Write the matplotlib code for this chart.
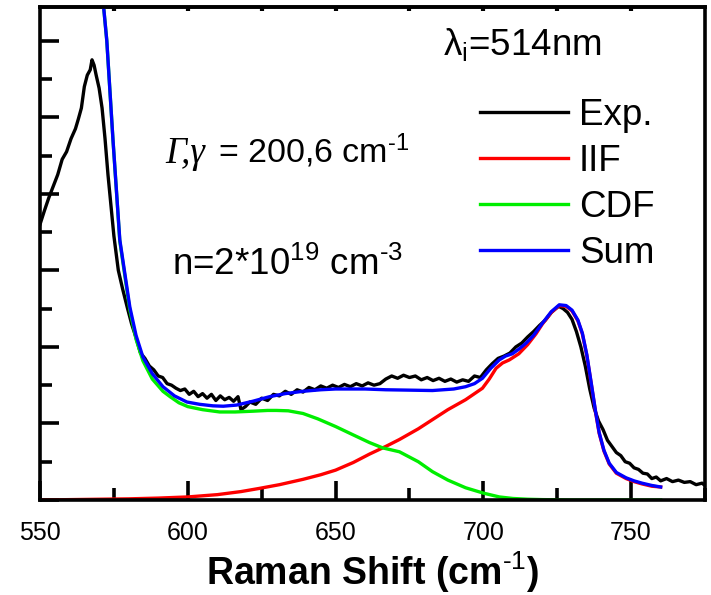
import matplotlib
matplotlib.use("Agg")
import matplotlib.pyplot as plt
from matplotlib.ticker import MultipleLocator, NullFormatter

plt.rcParams['font.family'] = ['Liberation Sans', 'DejaVu Sans']
plt.rcParams['mathtext.fontset'] = 'custom'
plt.rcParams['mathtext.rm'] = 'Liberation Sans'
plt.rcParams['mathtext.it'] = 'Liberation Sans:italic'
plt.rcParams['mathtext.bf'] = 'Liberation Sans:bold'

# ---- data ----
exp_x = [550, 551.5, 553, 554.5, 556, 557.5, 559, 560.5, 562, 563, 564, 565, 566, 567, 567.6, 568.3,
         569, 570, 571, 572, 573, 574, 575, 576.5, 578, 579.5, 581, 582.5, 584, 585.5, 587, 588.5,
         590, 591.5, 593, 594.5, 596, 597.5, 599, 600.5, 602, 603.5, 605, 606.5, 608, 609.5, 611,
         612.5, 614, 615.5, 617, 618, 619.5, 621, 623, 625, 627, 629, 631, 633, 635, 637, 639, 641,
         643, 645, 647, 649, 651, 653, 655, 657, 659, 661, 663, 665, 667, 669, 671, 673, 675, 677,
         679, 681, 683, 685, 687, 689, 691, 693, 695, 697, 699, 701, 703, 705, 707, 709, 711, 713,
         715, 717, 719, 721, 723, 724.5, 725.5, 727, 728.5, 730, 731.5, 733, 734.5, 736, 737.5, 739,
         740.5, 742, 743.5, 745, 746.5, 748, 749.5, 751, 752.5, 754, 755.5, 757, 758.5, 760, 762,
         764, 766, 768, 770, 772, 774, 775]
exp_y = [3.60, 3.78, 3.95, 4.10, 4.25, 4.45, 4.55, 4.72, 4.85, 4.98, 5.12, 5.40, 5.55, 5.62, 5.75, 5.68,
         5.55, 5.38, 5.12, 4.72, 4.25, 3.85, 3.45, 3.00, 2.75, 2.52, 2.30, 2.12, 1.92, 1.85, 1.75, 1.70,
         1.62, 1.60, 1.52, 1.50, 1.46, 1.43, 1.45, 1.38, 1.42, 1.35, 1.39, 1.33, 1.38, 1.30, 1.36,
         1.31, 1.34, 1.29, 1.35, 1.18, 1.22, 1.28, 1.25, 1.33, 1.30, 1.38, 1.36, 1.42, 1.38, 1.44, 1.41, 1.47,
         1.44, 1.49, 1.46, 1.50, 1.47, 1.51, 1.48, 1.52, 1.49, 1.53, 1.50, 1.52, 1.58, 1.62, 1.59, 1.63, 1.60, 1.62,
         1.57, 1.60, 1.56, 1.59, 1.55, 1.58, 1.54, 1.57, 1.55, 1.62, 1.60, 1.70, 1.78, 1.85, 1.88, 1.92, 2.00, 2.05,
         2.13, 2.20, 2.28, 2.35, 2.45, 2.50, 2.53, 2.50, 2.45, 2.36, 2.20, 2.00, 1.75, 1.45, 1.20, 1.03,
         0.92, 0.78, 0.70, 0.62, 0.58, 0.50, 0.48, 0.42, 0.40, 0.35, 0.34, 0.28, 0.30, 0.25, 0.28,
         0.24, 0.26, 0.23, 0.24, 0.20, 0.22, 0.19]

iif_x = [550, 560, 570, 580, 590, 600, 610, 618, 624, 631, 639, 645, 650, 656, 661.5, 667, 671.6, 678,
         682.8, 688, 694, 699.7, 702, 704.3, 706.5, 708.8, 712, 715, 717.8, 720, 723, 725.7, 728, 730,
         732, 733.5, 735, 736.5, 738, 739.2, 740.8, 742.6, 745, 748.3, 751, 753.7, 757, 760]
iif_y = [0.0, 0.005, 0.01, 0.015, 0.025, 0.04, 0.07, 0.11, 0.15, 0.2, 0.27, 0.33, 0.39, 0.49, 0.6, 0.7, 0.79, 0.93,
         1.05, 1.18, 1.31, 1.46, 1.58, 1.72, 1.79, 1.83, 1.91, 2.03, 2.17, 2.30, 2.45, 2.54, 2.53, 2.47,
         2.34, 2.17, 1.89, 1.52, 1.14, 0.87, 0.64, 0.47, 0.35, 0.28, 0.24, 0.21, 0.18, 0.17]

cdf_x = [550, 556, 562, 566, 569, 571.5, 572.6, 574.7, 577, 580.4, 582.5, 584.8, 588, 591.6, 594, 597,
         600, 605, 610.8, 616, 622, 627, 630, 634, 639, 644, 650, 656, 661.5, 666, 671.6, 678, 682.8,
         688, 694, 700, 705.4, 710, 715, 720, 730, 760]
cdf_y = [40, 20, 11, 8.4, 7.2, 6.45, 6.0, 4.7, 3.38, 2.48, 2.1, 1.82, 1.58, 1.42, 1.35, 1.27,
         1.22, 1.18, 1.15, 1.15, 1.16, 1.17, 1.17, 1.165, 1.13, 1.06, 0.96, 0.85, 0.75, 0.68, 0.63, 0.5, 0.37,
         0.26, 0.16, 0.09, 0.04, 0.02, 0.01, 0.005, 0.0, 0.0]

sum_x = [550, 556, 562, 566, 569, 571.5, 572.6, 574.7, 577, 580.4, 582.5, 584.8, 588, 591.6, 595.5,
         599.7, 604, 608.5, 612, 616.5, 622, 627.7, 633, 639, 645, 650, 660, 667, 675, 682.8, 690, 694,
         697, 699.7, 702.5, 705.4, 707.5, 709.8, 712, 714.5, 717, 720, 723, 725.7, 728, 730, 732, 733.5,
         735, 736.5, 738, 739.2, 740.8, 742.6, 745, 748.3, 751, 753.7, 757, 760]
sum_y = [40, 20, 11, 8.4, 7.2, 6.45, 6.0, 4.7, 3.4, 2.52, 2.15, 1.87, 1.65, 1.48, 1.36,
         1.28, 1.25, 1.23, 1.225, 1.24, 1.29, 1.35, 1.39, 1.42, 1.44, 1.45, 1.45, 1.44, 1.435, 1.43, 1.45, 1.48,
         1.52, 1.59, 1.72, 1.83, 1.88, 1.91, 1.97, 2.05, 2.15, 2.31, 2.46, 2.55, 2.54, 2.48, 2.35, 2.18,
         1.90, 1.53, 1.15, 0.88, 0.65, 0.48, 0.36, 0.29, 0.25, 0.22, 0.19, 0.17]

labels = ['Exp.', 'IIF', 'CDF', 'Sum']
colors = ['black', '#ff0000', '#00ee00', '#0000ff']
xticks = [550, 600, 650, 700, 750]

fig = plt.figure(figsize=(7.11, 5.95), dpi=100)
ax = fig.add_axes([40/711, 95/595, 665/711, 493/595])

ax.plot(exp_x, exp_y, color=colors[0], lw=2.4, label=labels[0])
ax.plot(iif_x, iif_y, color=colors[1], lw=2.4, label=labels[1])
ax.plot(cdf_x, cdf_y, color=colors[2], lw=2.4, label=labels[2])
ax.plot(sum_x, sum_y, color=colors[3], lw=2.4, label=labels[3])

ax.set_xlim(550, 775)
ax.set_ylim(0, 6.44)
ax.set_xticks(xticks)
ax.xaxis.set_minor_locator(MultipleLocator(25))
ax.yaxis.set_major_locator(MultipleLocator(1))
ax.yaxis.set_minor_locator(MultipleLocator(0.5))
ax.yaxis.set_major_formatter(NullFormatter())
ax.tick_params(axis='both', which='major', direction='in', length=14, width=2.6, labelsize=18, pad=15)
ax.tick_params(axis='both', which='minor', direction='in', length=8.5, width=2.6)
ax.tick_params(axis='x', top=False)
ax.tick_params(axis='y', right=False)
for s in ax.spines.values():
    s.set_linewidth(2.6)

sec = ax.secondary_xaxis('top')
sec.set_xticks([575, 600, 625, 650, 675, 700, 725, 750])
sec.tick_params(direction='in', length=3, width=3, labelsize=0)
sec.set_xticklabels([])
sec.spines['top'].set_linewidth(2.6)

ax.set_xlabel('Raman Shift (cm$^{\\text{-1}}$)', fontsize=27, fontweight='bold', labelpad=3)

ax.text(0.606, 0.903, 'λ$_{\\mathrm{i}}$=514nm', transform=ax.transAxes, fontsize=26.5, va='baseline', ha='left')
ax.text(0.188, 0.684, 'Γ,γ', transform=ax.transAxes, fontsize=26.5, va='baseline', ha='left',
        family='Liberation Serif', style='italic')
ax.text(0.268, 0.684, '= 200,6 cm$^{\\text{-1}}$', transform=ax.transAxes, fontsize=24.5, va='baseline', ha='left')
ax.text(0.199, 0.456, 'n=2*10$^{\\text{19}}$ cm$^{\\text{-3}}$', transform=ax.transAxes, fontsize=26.5,
        va='baseline', ha='left')

ax.legend(loc='upper left', bbox_to_anchor=((480-40)/665, (500-98)/493), frameon=False, fontsize=26.5,
          handlelength=2.39, handletextpad=0.3, labelspacing=0.3, borderpad=0, borderaxespad=0)

fig.savefig('out.png', dpi=100)
